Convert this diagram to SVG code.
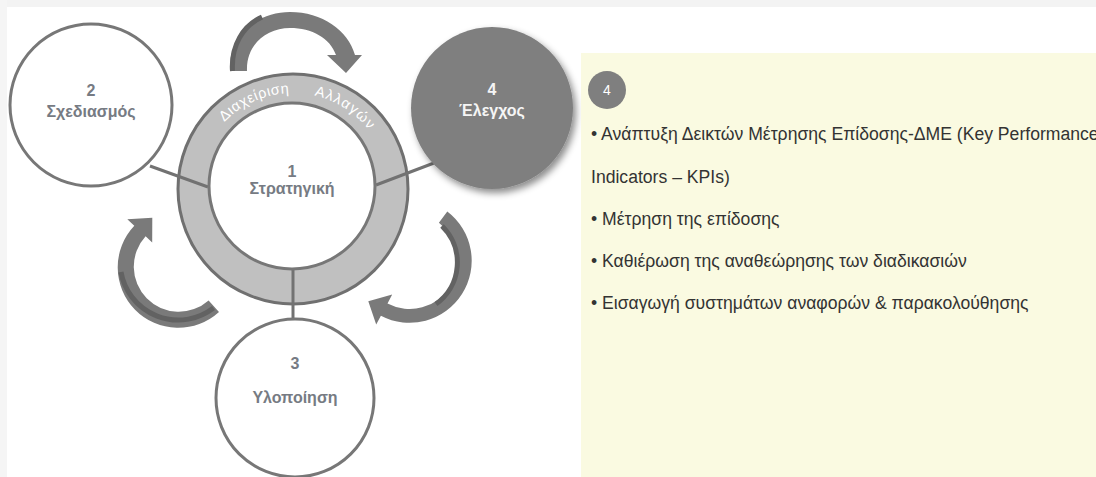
<svg xmlns="http://www.w3.org/2000/svg" width="1096" height="477" viewBox="0 0 1096 477">
  <style>
    .node { fill: #ffffff; stroke: #777777; stroke-width: 3; }
    .lbl { font-family: "Liberation Sans", Arial, sans-serif; font-size: 16px; font-weight: bold; fill: #767b83; text-anchor: middle; }
    .lbl-inv { fill: #f5f5f5; }
    .link { stroke: #727272; stroke-width: 3; fill: none; }
    .arrow { fill: #7a7a7a; }
    .arrow-side { fill: none; stroke: #626262; stroke-width: 5; }
    .ringtxt { font-family: "Liberation Sans", Arial, sans-serif; font-size: 14.5px; fill: #ffffff; }
    .body { font-family: "Liberation Sans", Arial, sans-serif; font-size: 17.6px; fill: #333333; }
  </style>
  <defs>
    <filter id="shadow" x="-20%" y="-20%" width="150%" height="150%">
      <feDropShadow dx="3" dy="4" stdDeviation="3.5" flood-color="#000000" flood-opacity="0.45"/>
    </filter>
    <!-- baseline circle for the ring caption, starting at 9 o'clock, running clockwise -->
    <path id="ringPath" d="M 197 189 A 96 96 0 0 1 389 189"/>
  </defs>

  <rect width="1096" height="477" fill="#ffffff"/>
  <rect x="0" y="0" width="1096" height="7" fill="#f3f3f3"/>
  <rect x="0" y="0" width="7" height="477" fill="#f5f5f5"/>

  <!-- cycle arrows -->
  <g id="cycle-arrows">
    <path class="arrow" d="M 230 71 C 228 35, 258 12, 290 12 C 322 12, 348 30, 355 55 L 362 55 L 346 73 L 327 55 L 336 55 C 330 38, 312 28, 290 28 C 266 28, 246 45, 247 71 Z"/>
    <path class="arrow-side" d="M 232.5 71 C 231 45, 243 26, 262 17"/>
    <path class="arrow" d="M 219.0 312.0 A 60.5 60.5 0 0 1 134.3 225.7 L 127.3 219.3 L 152.3 217.8 L 152.2 242.4 L 145.6 236.3 A 45 45 0 0 0 208.6 300.4 Z"/>
    <path class="arrow-side" d="M 213.5 308 A 58 58 0 0 1 121 272"/>
    <path class="arrow" d="M 447.3 211.5 A 62 62 0 0 1 380.9 315.7 L 376.2 324.6 L 368.3 301.2 L 392.2 294.6 L 387.5 303.4 A 48 48 0 0 0 438.9 222.7 Z"/>
    <path class="arrow-side" d="M 442 226 A 51 51 0 0 1 436 304"/>
  </g>

  <!-- change-management ring -->
  <g id="ring">
    <circle cx="293" cy="189" r="115" fill="#c0c0c0" stroke="#707070" stroke-width="3"/>
    <text class="ringtxt" letter-spacing="0.6"><textPath href="#ringPath" startOffset="74">Διαχείριση</textPath></text>
    <text class="ringtxt" letter-spacing="1.2"><textPath href="#ringPath" startOffset="172">Αλλαγών</textPath></text>
  </g>

  <!-- connectors -->
  <g id="connectors">
    <line class="link" x1="150" y1="166" x2="208" y2="187"/>
    <line class="link" x1="376" y1="185" x2="434" y2="163"/>
    <line class="link" x1="293" y1="268" x2="293" y2="321"/>
  </g>

  <g id="node-1">
    <circle class="node" cx="292" cy="186" r="83"/>
    <text class="lbl" x="292" y="177">1</text>
    <text class="lbl" x="292" y="194">Στρατηγική</text>
  </g>

  <g id="node-2">
    <circle class="node" cx="91" cy="105" r="81"/>
    <text class="lbl" x="91" y="96">2</text>
    <text class="lbl" x="91" y="117">Σχεδιασμός</text>
  </g>

  <g id="node-3">
    <circle class="node" cx="295" cy="398" r="79"/>
    <text class="lbl" x="295" y="369">3</text>
    <text class="lbl" x="295" y="403">Υλοποίηση</text>
  </g>

  <g id="node-4">
    <circle cx="492" cy="108" r="81" fill="#7f7f7f" filter="url(#shadow)"/>
    <text class="lbl lbl-inv" x="492" y="95">4</text>
    <text class="lbl lbl-inv" x="492" y="116">Έλεγχος</text>
  </g>

  <!-- detail panel for step 4 -->
  <g id="panel">
    <rect x="581" y="53" width="515" height="424" fill="#fafae1"/>
    <circle cx="607" cy="90" r="19" fill="#7f7f7f"/>
    <text x="607" y="95" font-family="Liberation Sans, Arial, sans-serif" font-size="14" fill="#ffffff" text-anchor="middle">4</text>
    <text class="body" x="591" y="140">• Ανάπτυξη Δεικτών Μέτρησης Επίδοσης-ΔΜΕ (Key Performance</text>
    <text class="body" x="591" y="183">Indicators – KPIs)</text>
    <text class="body" x="591" y="225">• Μέτρηση της επίδοσης</text>
    <text class="body" x="591" y="267">• Καθιέρωση της αναθεώρησης των διαδικασιών</text>
    <text class="body" x="591" y="309">• Εισαγωγή συστημάτων αναφορών &amp; παρακολούθησης</text>
  </g>
</svg>
